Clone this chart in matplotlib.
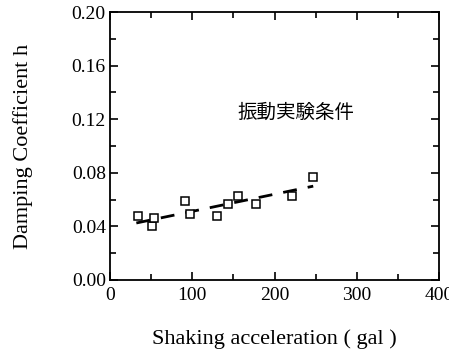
import matplotlib.pyplot as plt
from matplotlib.ticker import MultipleLocator, FormatStrFormatter

# data
accel = [34, 51, 53, 91, 97, 130, 143, 156, 177, 221, 247]
damping = [0.048, 0.040, 0.046, 0.059, 0.049, 0.048, 0.057, 0.063, 0.057, 0.063, 0.077]
fit_x = [32, 247]
fit_y = [0.0425, 0.070]

fig = plt.figure(figsize=(4.49, 3.53), dpi=100)
ax = fig.add_axes([0.245, 0.207, 0.733, 0.759])

ax.plot(fit_x, fit_y, color='black', lw=2, linestyle=(0, (5, 4)))
ax.plot(accel, damping, 's', mfc='white', mec='black', ms=5.5, mew=1.1)

ax.set_xlim(0, 400)
ax.set_ylim(0, 0.20)
ax.xaxis.set_major_locator(MultipleLocator(100))
ax.xaxis.set_minor_locator(MultipleLocator(50))
ax.yaxis.set_major_locator(MultipleLocator(0.04))
ax.yaxis.set_minor_locator(MultipleLocator(0.02))
ax.yaxis.set_major_formatter(FormatStrFormatter('%.2f'))
ax.tick_params(which='both', direction='in', top=True, right=True, width=1.2)
ax.tick_params(which='major', length=6, labelsize=14)
ax.tick_params(axis='x', which='major', pad=5)
ax.tick_params(axis='y', which='major', pad=3)
ax.tick_params(which='minor', length=4)
for lab in ax.get_xticklabels() + ax.get_yticklabels():
    lab.set_family('Liberation Serif')
for s in ax.spines.values():
    s.set_linewidth(1.3)

ax.set_xlabel('Shaking acceleration ( gal )', family='Liberation Serif', fontsize=16, labelpad=18)
ax.set_ylabel('Damping Coefficient h', family='Liberation Serif', fontsize=16, labelpad=28)

ax.text(155, 0.125, '振動実験条件', family=['Noto Sans CJK JP', 'DejaVu Sans'],
        fontsize=14, va='center')

fig.savefig('out.png', dpi=100)
